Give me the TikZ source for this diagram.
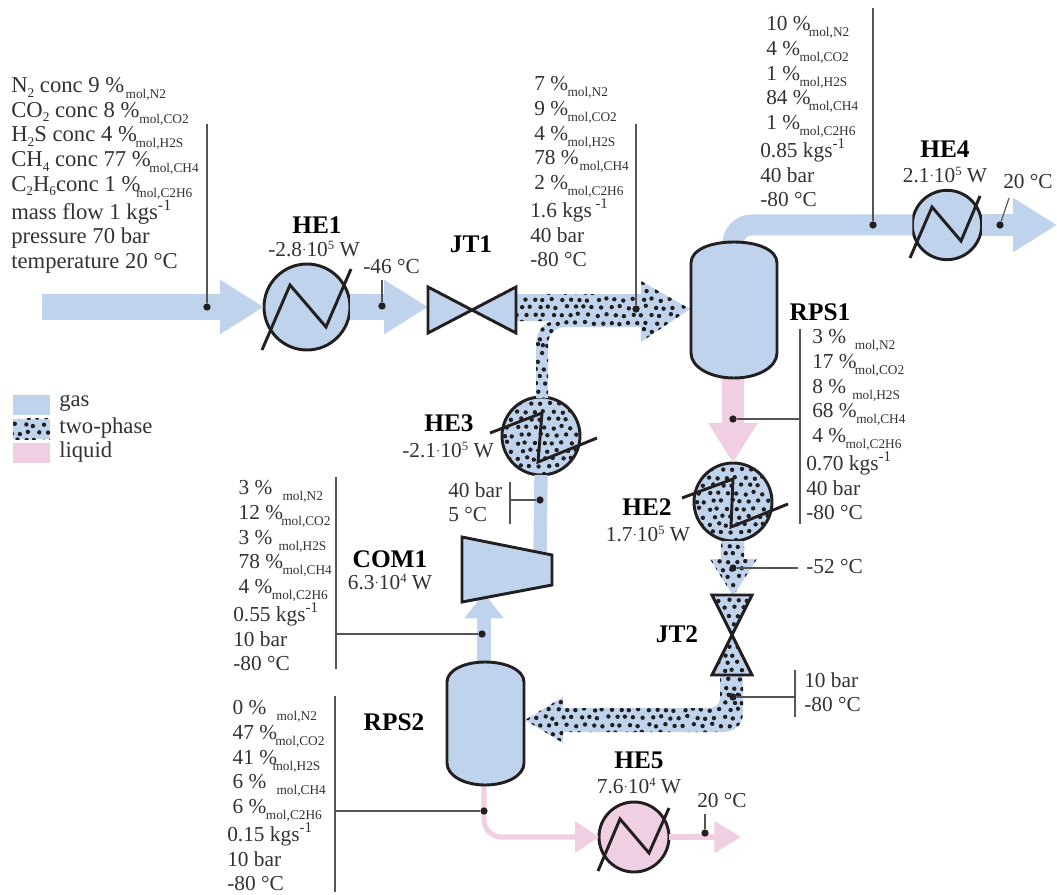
\documentclass[tikz,border=0pt]{standalone}
\usepackage{fontspec}
\setmainfont{Liberation Serif}
\usepackage{tikz}
\usetikzlibrary{arrows.meta,positioning,calc}
\definecolor{gasblue}{RGB}{191,212,236}
\definecolor{liquidpink}{RGB}{240,207,227}
\definecolor{inkdark}{RGB}{35,31,32}
\definecolor{textgray}{RGB}{50,50,50}
\definecolor{leadgray}{RGB}{85,85,85}
% scattered dots of the two-phase streams: x0, y0, columns, rows
\newcommand{\dotfield}[4]{%
  \pgfmathsetseed{31}%
  \foreach \row in {0,...,#4}{%
    \foreach \col in {0,...,#3}{%
      \pgfmathsetmacro{\dotx}{#1+9*\col+4.5*mod(\row,2)+1.7*rand}%
      \pgfmathsetmacro{\doty}{#2+7.8*\row+1.5*rand}%
      \fill[inkdark] (\dotx,\doty) circle[radius=2.2];
    }%
  }%
}
\newcommand{\molsub}[1]{\raisebox{-4.5pt}{\fontsize{10}{10}\selectfont mol,#1}}
\newcommand{\comp}[3]{\makebox[#1pt][l]{#2}\molsub{#3}}
\newcommand{\chem}[1]{\raisebox{-3.5pt}{\fontsize{10}{10}\selectfont #1}}
\newcommand{\tenpow}[1]{\raisebox{1.5pt}{\fontsize{10}{10}\selectfont ·}10\raisebox{5.5pt}{\fontsize{9.5}{10}\selectfont #1}}

\begin{document}
\begin{tikzpicture}[
    x=0.75pt, y=-0.75pt,
    textblock/.style={font=\fontsize{16}{18.6}\selectfont, align=left, anchor=north west, inner sep=0pt, text=textgray},
    unitname/.style={font=\fontsize{19}{20}\selectfont\bfseries, inner sep=0pt, text=black},
    unitvalue/.style={font=\fontsize{16}{18}\selectfont, inner sep=0pt, text=textgray},
    hxunit/.style={circle, draw=inkdark, line width=2.2pt, inner sep=0pt, outer sep=0pt, fill=gasblue},
    zigzag/.style={draw=inkdark, line width=2.2pt, miter limit=6},
    unitline/.style={draw=inkdark, line width=2.2pt, fill=gasblue},
    bowtie/.style={inner sep=0pt, outer sep=0pt},
    flowdot/.style={circle, fill=inkdark, inner sep=0pt, minimum size=5.5pt},
    leader/.style={draw=leadgray, line width=0.85pt},
    gasflow/.style={draw=gasblue, line width=19.5pt},
    gasarrow/.style={gasflow, -{Triangle[length=33pt,width=38.5pt]}},
    gaspipe/.style={draw=gasblue, line width=10pt},
    liquidarrow/.style={draw=liquidpink, line width=17pt, -{Triangle[length=30pt,width=35pt]}},
    liquidline/.style={draw=liquidpink, line width=3.8pt},
    legendbox/.style={inner sep=0pt, minimum width=27.75pt, minimum height=15.5pt},
    legendtext/.style={font=\fontsize{17}{18}\selectfont, anchor=west, inner sep=0pt, text=textgray}
  ]
  \useasboundingbox (0,0) rectangle (1057,895);

  % units that the streams run to
  \node[hxunit, minimum size=64.5pt] (he1) at (307,307) {};
  \node[hxunit, minimum size=58.5pt, path picture={\dotfield{-42}{-40}{9}{10}}] (he2) at (733,502) {};
  \node[hxunit, minimum size=58.5pt, path picture={\dotfield{-42}{-40}{9}{10}}] (he3) at (541,436) {};
  \node[hxunit, minimum size=52pt] (he4) at (947,225) {};
  \node[hxunit, minimum size=52.5pt, fill=liquidpink] (he5) at (634,837) {};
  \node[bowtie, minimum width=66pt, minimum height=34.5pt] (jt1) at (472,310) {};
  \node[bowtie, minimum width=30pt, minimum height=60pt] (jt2) at (732,635) {};
  \coordinate (feed) at (42,307);
  \coordinate (rps1top) at (733,245);
  \coordinate (rps1bot) at (733,377);
  \coordinate (rps2top) at (484,664);
  \coordinate (rps2bot) at (484,784);
  \coordinate (com1in) at (484,593);
  \coordinate (com1out) at (540,556);
  \coordinate (he4end) at (1057,225);
  \coordinate (he5end) at (741,837);

  % gas and liquid streams
  \draw[gasarrow] (feed) -- (he1.west);
  \draw[gasarrow] (he1.east) -- (jt1.west |- he1.east);
  \draw[draw=gasblue, line width=15.75pt, rounded corners=14pt] (rps1top) |- (he4.west);
  \draw[gasarrow, line width=16.5pt] (he4.east) -- (he4end);
  \draw[gaspipe] (he3.south) -- (com1out);
  \draw[gaspipe, -{Triangle[length=19pt,width=28.5pt]}] (rps2top) -- (com1in);
  \draw[liquidarrow] (rps1bot) -- (he2.north);
  \draw[liquidline, rounded corners=13pt, -{Triangle[length=18pt,width=23pt]}] (rps2bot) |- (he5.west);
  \draw[draw=liquidpink, line width=4.5pt, -{Triangle[length=20pt,width=23pt]}] (he5.east) -- (he5end);

  % two-phase streams
  \path[fill=gasblue, path picture={\dotfield{512}{276}{20}{9}\dotfield{530}{345}{2}{7}}]
    (517,294) -- (641,294) -- (641,281) -- (690,309) -- (641,342) -- (641,327) -- (566,327)
    .. controls (555,327) and (548,334) .. (548,345) -- (548,398) -- (536,398) -- (536,345)
    .. controls (536,330) and (545,321) .. (556,321) -- (517,321) -- cycle;
  \path[fill=gasblue, path picture={\dotfield{706}{538}{6}{7}}]
    (721,541) -- (744,541) -- (744,559) -- (757,559) -- (733,596) -- (710,559) -- (721,559) -- cycle;
  \path[fill=gasblue, path picture={\dotfield{522}{694}{26}{6}\dotfield{716}{672}{3}{3}}]
    (720,675) -- (743,675) -- (743,712) .. controls (743,725) and (735,732) .. (722,732)
    -- (563,732) -- (563,743) -- (525,720) -- (563,697) -- (563,708) -- (708,708)
    .. controls (716,708) and (720,704) .. (720,698) -- cycle;

  % vessels, valves, compressor
  \draw[unitline] (691,263) .. controls (691,250) and (710,242) .. (734,242)
    .. controls (758,242) and (777,250) .. (777,263) -- (777,353)
    .. controls (777,367) and (758,378) .. (734,378)
    .. controls (710,378) and (691,367) .. (691,353) -- cycle;
  \draw[unitline] (447,682) .. controls (447,670) and (465,662) .. (485,662)
    .. controls (506,662) and (524,670) .. (524,682) -- (524,763)
    .. controls (524,776) and (506,785) .. (485,785)
    .. controls (465,785) and (447,776) .. (447,763) -- cycle;
  \draw[unitline] (jt1.north west) -- (jt1.south east) -- (jt1.north east) -- (jt1.south west) -- cycle;
  \draw[unitline, path picture={\dotfield{706}{592}{5}{11}}] (jt2.north west) -- (jt2.south east) -- (jt2.south west) -- (jt2.north east) -- cycle;
  \draw[unitline] (462,537) -- (552,555) -- (552,585) -- (462,602) -- cycle;

  % zigzags of the heat exchangers
  \draw[zigzag, shift={(he1)}] (-45,43) -- (-17,-22) -- (19,20) -- (44,-38);
  \draw[zigzag, shift={(he2)}] (-51,-4) -- (0,-23) -- (-2,25) -- (55,2);
  \draw[zigzag, shift={(he3)}] (-51,-3) -- (1,-23) -- (-3,26) -- (56,2);
  \draw[zigzag, shift={(he4)}] (-37,33) -- (-15,-18) -- (14,16) -- (33,-29);
  \draw[zigzag, shift={(he5)}] (-36,34) -- (-14,-18) -- (15,16) -- (35,-29);

  % unit labels
  \node[unitname] (he1name) at (317,225) {HE1};
  \node[unitvalue] (he1val) at (314,249) {-2.8\tenpow{5} W};
  \node[unitname] (jt1name) at (471,244) {JT1};
  \node[unitname] (he3name) at (449,423) {HE3};
  \node[unitvalue] (he3val) at (448,450) {-2.1\tenpow{5} W};
  \node[unitname] (he4name) at (945,149) {HE4};
  \node[unitvalue] (he4val) at (945,175) {2.1\tenpow{5} W};
  \node[unitname] (rps1name) at (820,312) {RPS1};
  \node[unitname] (he2name) at (647,507) {HE2};
  \node[unitvalue] (he2val) at (648,534) {1.7\tenpow{5} W};
  \node[unitname] (jt2name) at (677,634) {JT2};
  \node[unitname] (com1name) at (390,559) {COM1};
  \node[unitvalue] (com1val) at (390,582) {6.3\tenpow{4} W};
  \node[unitname] (rps2name) at (394,722) {RPS2};
  \node[unitname] (he5name) at (639,760) {HE5};
  \node[unitvalue] (he5val) at (639,786) {7.6\tenpow{4} W};

  % stream data
  \node[textblock, font=\fontsize{17}{18.5}\selectfont] (feeddata) at (11,77) {%
    N\chem{2} conc 9 \%\hspace{1pt}\molsub{N2}\\
    CO\chem{2} conc 8 \%\molsub{CO2}\\
    H\chem{2}S conc 4 \%\hspace{-1pt}\molsub{H2S}\\
    CH\chem{4} conc 77 \%\hspace{-1pt}\molsub{CH4}\\
    C\chem{2}H\chem{6}conc 1 \%\hspace{-3pt}\molsub{C2H6}\\
    mass flow 1 kgs\textsuperscript{-1}\\
    pressure 70 bar\\
    temperature 20 °C};
  \node[textblock] (jt1data) at (530,76) {%
    \hspace*{3pt}\comp{25}{7 \%}{N2}\\
    \hspace*{3pt}\comp{25}{9 \%}{CO2}\\
    \hspace*{3pt}\comp{25}{4 \%}{H2S}\\
    \hspace*{3pt}\comp{34}{78 \%}{CH4}\\
    \hspace*{3pt}\comp{25}{2 \%}{C2H6}\\
    1.6 kgs\,\textsuperscript{-1}\\
    40 bar\\
    -80 °C};
  \node[textblock] (he4data) at (760,16) {%
    \hspace*{4.5pt}\comp{32}{10 \%}{N2}\\
    \hspace*{4.5pt}\comp{25}{4 \%}{CO2}\\
    \hspace*{4.5pt}\comp{25}{1 \%}{H2S}\\
    \hspace*{4.5pt}\comp{32}{84 \%}{CH4}\\
    \hspace*{4.5pt}\comp{25}{1 \%}{C2H6}\\
    0.85 kgs\textsuperscript{-1}\\
    40 bar\\
    -80 °C};
  \node[textblock] (rps1data) at (806,329) {%
    \hspace*{4.5pt}\comp{32}{3 \%}{N2}\\
    \hspace*{4.5pt}\comp{32}{17 \%}{CO2}\\
    \hspace*{4.5pt}\comp{30}{8 \%}{H2S}\\
    \hspace*{4.5pt}\comp{33}{68 \%}{CH4}\\
    \hspace*{4.5pt}\comp{25}{4 \%}{C2H6}\\
    0.70 kgs\textsuperscript{-1}\\
    40 bar\\
    -80 °C};
  \node[textblock] (com1data) at (233,480) {%
    \hspace*{4pt}\comp{33}{3 \%}{N2}\\
    \hspace*{4pt}\comp{32}{12 \%}{CO2}\\
    \hspace*{4pt}\comp{30}{3 \%}{H2S}\\
    \hspace*{4pt}\comp{33}{78 \%}{CH4}\\
    \hspace*{4pt}\comp{25}{4 \%}{C2H6}\\
    0.55 kgs\textsuperscript{-1}\\
    10 bar\\
    -80 °C};
  \node[textblock] (rps2data) at (227,700) {%
    \hspace*{4pt}\comp{33}{0 \%}{N2}\\
    \hspace*{4pt}\comp{32}{47 \%}{CO2}\\
    \hspace*{4pt}\comp{30}{41 \%}{H2S}\\
    \hspace*{4pt}\comp{33}{6 \%}{CH4}\\
    \hspace*{4pt}\comp{25}{6 \%}{C2H6}\\
    0.15 kgs\textsuperscript{-1}\\
    10 bar\\
    -80 °C};
  \node[textblock] (he1temp) at (363,259) {-46 °C};
  \node[textblock] (he3temp) at (448,482) {40 bar\\5 °C};
  \node[textblock] (he4temp) at (1003,174) {20 °C};
  \node[textblock] (he2temp) at (806,559) {-52 °C};
  \node[textblock] (jt2data) at (804,672) {10 bar\\-80 °C};
  \node[textblock] (he5temp) at (697,793) {20 °C};

  % measuring points and their leaders
  \node[flowdot] (p1) at (207,307) {};
  \node[flowdot] (p2) at (382,306) {};
  \node[flowdot] (p3) at (636,309) {};
  \node[flowdot] (p4) at (873,225) {};
  \node[flowdot] (p5) at (1000,225) {};
  \node[flowdot] (p6) at (733,419) {};
  \node[flowdot] (p7) at (733,568) {};
  \node[flowdot] (p8) at (733,697) {};
  \node[flowdot] (p9) at (540,500) {};
  \node[flowdot] (p10) at (482,634) {};
  \node[flowdot] (p11) at (484,811) {};
  \node[flowdot] (p12) at (705,833) {};
  \coordinate (t1) at (207,124);
  \coordinate (t2) at (382,280);
  \coordinate (t3) at (636,124);
  \coordinate (t4) at (873,8);
  \coordinate (t5) at (1009,198);
  \coordinate (t12) at (705,814);
  \coordinate (b6a) at (800,329);
  \coordinate (b6b) at (800,524);
  \coordinate (b7) at (798,568);
  \coordinate (b8a) at (795,670);
  \coordinate (b8b) at (795,717);
  \coordinate (b9a) at (510,482);
  \coordinate (b9b) at (510,524);
  \coordinate (b10a) at (336,477);
  \coordinate (b10b) at (336,669);
  \coordinate (b11a) at (335,696);
  \coordinate (b11b) at (335,892);
  \draw[leader] (t1) -- (p1);
  \draw[leader] (t2) -- (p2);
  \draw[leader] (t3) -- (p3);
  \draw[leader] (t4) -- (p4);
  \draw[leader] (t5) -- (p5);
  \draw[leader] (t12) -- (p12);
  \draw[leader] (b6a) -- (b6b);
  \draw[leader] (p6) -- (p6 -| b6a);
  \draw[leader] (p7) -- (b7);
  \draw[leader] (b8a) -- (b8b);
  \draw[leader] (p8) -- (p8 -| b8a);
  \draw[leader] (b9a) -- (b9b);
  \draw[leader] (p9) -- (p9 -| b9a);
  \draw[leader] (b10a) -- (b10b);
  \draw[leader] (p10) -- (p10 -| b10a);
  \draw[leader] (b11a) -- (b11b);
  \draw[leader] (p11) -- (p11 -| b11a);

  % legend
  \node[legendbox, fill=gasblue] (leggas) at (31.5,405) {};
  \node[legendbox, fill=gasblue, path picture={\dotfield{-20}{-12}{4}{3}}] (legtwo) at (31.5,429) {};
  \node[legendbox, fill=liquidpink] (legliq) at (31.5,453) {};
  \node[legendtext] (leggastxt) at (59,403) {gas};
  \node[legendtext] (legtwotxt) at (59,428) {two-phase};
  \node[legendtext] (legliqtxt) at (59,452) {liquid};
\end{tikzpicture}
\end{document}
